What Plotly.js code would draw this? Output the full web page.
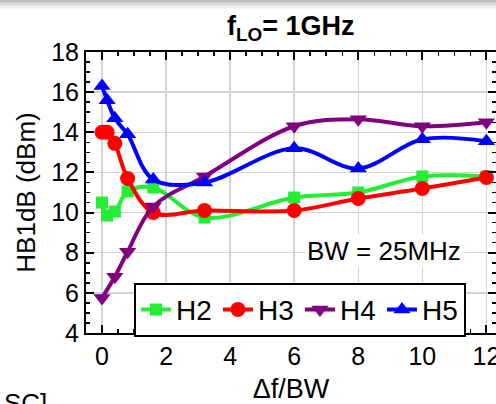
<!DOCTYPE html>
<html><head><meta charset="utf-8">
<script src="https://cdn.plot.ly/plotly-3.0.1.min.js"></script>
<style>html,body{margin:0;background:#fff;overflow:hidden;width:496px;height:404px}#c{width:506px;height:404px}</style>
</head><body><div id="c"></div>
<script>
const seriesNames = ["H2", "H3", "H4", "H5"];
const xH2 = [0, 0.16, 0.4, 0.8, 1.6, 3.2, 6, 8, 10, 12];
const yH2 = [10.5, 9.85, 10.05, 11.05, 11.25, 9.75, 10.75, 11.0, 11.8, 11.8];
const xH3 = [0, 0.16, 0.4, 0.8, 1.6, 3.2, 6, 8, 10, 12];
const yH3 = [14.0, 14.0, 13.45, 11.7, 10.0, 10.1, 10.1, 10.7, 11.2, 11.75];
const xH4 = [0, 0.4, 0.8, 1.6, 3.2, 6, 8, 10, 12];
const yH4 = [5.75, 6.8, 8.05, 10.3, 11.8, 14.3, 14.65, 14.3, 14.5];
const xH5 = [0, 0.16, 0.4, 0.8, 1.6, 3.2, 6, 8, 10, 12];
const yH5 = [16.3, 15.6, 14.7, 13.9, 11.65, 11.5, 13.2, 12.2, 13.65, 13.55];
const xTicks = [0, 2, 4, 6, 8, 10, 12];
const yTicks = [4, 6, 8, 10, 12, 14, 16, 18];

const F = "Liberation Sans, Arial, sans-serif";
function tr(name, x, y, color, symbol, size) {
  return {x: x, y: y, name: name, type: "scatter", mode: "lines+markers",
    line: {color: color, width: 4, shape: "spline", smoothing: 1},
    marker: {color: color, symbol: symbol, size: size}};
}
const data = [
  tr(seriesNames[0], xH2, yH2, "#22ee33", "square", 12),
  tr(seriesNames[1], xH3, yH3, "#ff0000", "circle", 15),
  tr(seriesNames[2], xH4, yH4, "#800080", "triangle-down", 15),
  tr(seriesNames[3], xH5, yH5, "#0000ff", "triangle-up", 15)
];
const axBase = {
  showline: true, linecolor: "#000", linewidth: 2, mirror: "ticks",
  ticks: "inside", ticklen: 8, tickwidth: 2, tickcolor: "#000",
  showgrid: true, gridcolor: "#d4d4d4", gridwidth: 1.5, zeroline: false,
  tickfont: {family: F, size: 25, color: "#000"},
  minor: {ticks: "inside", ticklen: 4, tickwidth: 1.5, tickcolor: "#000", dtick: 0.5, showgrid: false}
};
const layout = {
  width: 506, height: 404,
  margin: {l: 86, r: 10, t: 52, b: 71},
  paper_bgcolor: "#fff", plot_bgcolor: "#fff",
  xaxis: Object.assign({}, axBase, {range: [-0.5, 12.3], tickvals: xTicks, ticktext: xTicks.map(String),
    title: {text: "Δf/BW", font: {family: F, size: 27, color: "#000"}, standoff: 13}}),
  yaxis: Object.assign({}, axBase, {range: [4, 18], tickvals: yTicks, ticktext: yTicks.map(String),
    title: {text: "HB1dB (dBm)", font: {family: F, size: 26, color: "#000"}, standoff: 8}}),
  showlegend: true,
  legend: {orientation: "h", x: 0.117, y: 0.179, xanchor: "left", yanchor: "top",
    bgcolor: "#fff", bordercolor: "#000", borderwidth: 2,
    font: {family: F, size: 28, color: "#000"}, itemwidth: 30,
    entrywidth: 37, entrywidthmode: "pixels", tracegroupgap: 0},
  annotations: [
    {x: 0.5, y: 1.0, xref: "paper", yref: "paper", yanchor: "bottom", yshift: 5,
      text: "<b>f</b><sub><b>LO</b></sub><b>= 1GHz</b>", showarrow: false,
      font: {family: F, size: 27, color: "#000"}},
    {x: 8.8, y: 8.1, xref: "x", yref: "y", text: "BW = 25MHz", showarrow: false,
      font: {family: F, size: 26, color: "#000"}, bgcolor: "#fff"},
    {x: -0.205, y: -0.19, xref: "paper", yref: "paper", xanchor: "left", yanchor: "top",
      text: "SC]", showarrow: false, font: {family: F, size: 26, color: "#000"}}
  ],
  shapes: [
    {type: "rect", xref: "paper", yref: "paper", x0: -0.3, x1: 1.1, y0: 1.175, y1: 1.3, fillcolor: "#bdbdbd", line: {width: 0}, layer: "below"},
    {type: "rect", xref: "paper", yref: "paper", x0: -0.3, x1: 1.1, y0: 1.165, y1: 1.175, fillcolor: "#dadada", line: {width: 0}, layer: "below"},
    {type: "rect", xref: "paper", yref: "paper", x0: -0.3, x1: 1.1, y0: 1.155, y1: 1.165, fillcolor: "#eeeeee", line: {width: 0}, layer: "below"}
  ]
};
Plotly.newPlot("c", data, layout, {displayModeBar: false, staticPlot: true});
</script></body></html>
